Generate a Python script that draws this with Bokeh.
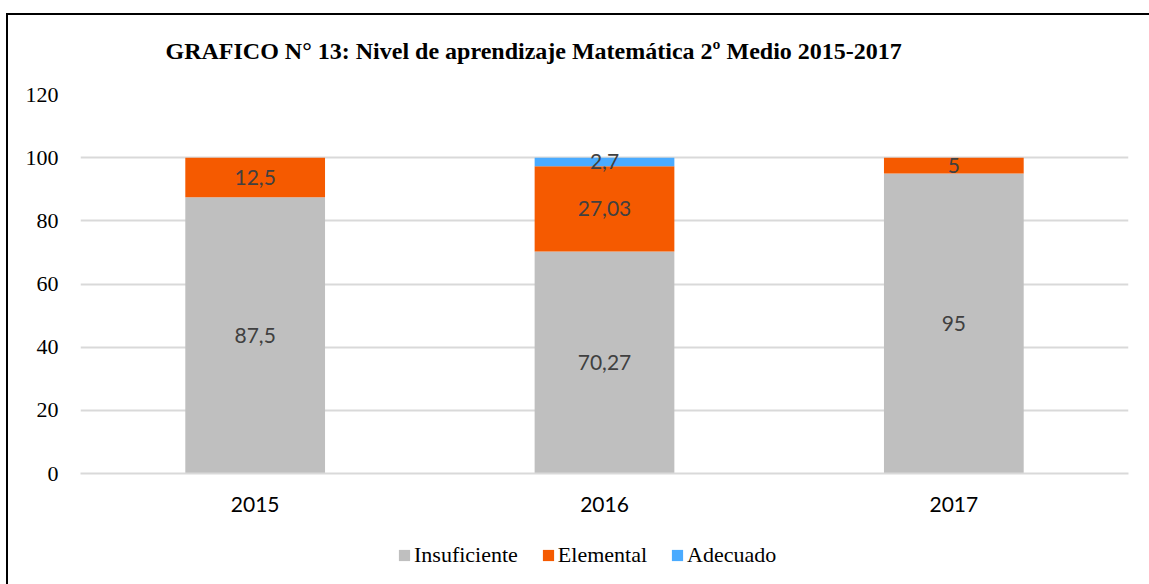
from bokeh.plotting import figure
from bokeh.layouts import column
from bokeh.models import ColumnDataSource, FixedTicker, Legend, Title, Range1d
from bokeh.core.properties import value
from bokeh.embed import file_html
from bokeh.resources import INLINE

years = ["2015", "2016", "2017"]
insuficiente = [87.5, 70.27, 95]
elemental = [12.5, 27.03, 5]
adecuado = [0, 2.7, 0]
series_names = ["Insuficiente", "Elemental", "Adecuado"]
colors = ["#bfbfbf", "#f55a00", "#4aabff"]
y_ticks = [0, 20, 40, 60, 80, 100, 120]
title_text = "GRAFICO N° 13: Nivel de aprendizaje Matemática 2º Medio 2015-2017"

source = ColumnDataSource(dict(year=years, Insuficiente=insuficiente,
                               Elemental=elemental, Adecuado=adecuado))

p = figure(x_range=years, y_range=(0, 120), width=1141, height=510,
           output_backend="svg", toolbar_location=None,
           min_border_left=72, min_border_right=21, min_border_top=79,
           min_border_bottom=52)
p.outline_line_color = None
p.x_range.range_padding = 0

renderers = p.vbar_stack(series_names, x="year", width=0.4, color=colors,
                         source=source, line_color=None)

# data labels
lx, ly, lt = [], [], []
for i, yr in enumerate(years):
    base = 0
    for series in (insuficiente, elemental, adecuado):
        v = series[i]
        if v > 0:
            lx.append(yr)
            ly.append(base + v / 2)
            lt.append(f"{v:g}".replace(".", ","))
        base += v
lsrc = ColumnDataSource(dict(x=lx, y=ly, t=lt))
p.text(x="x", y="y", text="t", source=lsrc, text_align="center",
       text_baseline="middle", text_font=value("Lato"),
       text_font_size="21px", text_color="#404040")

# axes
p.yaxis.ticker = FixedTicker(ticks=y_ticks)
p.yaxis.axis_line_color = None
p.yaxis.major_tick_line_color = None
p.yaxis.minor_tick_line_color = None
p.yaxis.major_label_text_font = "Liberation Serif"
p.yaxis.major_label_text_font_size = "22px"
p.yaxis.major_label_text_color = "#000000"
p.yaxis.major_label_standoff = 16

p.xaxis.axis_line_color = "#d9d9d9"
p.xaxis.axis_line_width = 2
p.xaxis.major_tick_line_color = None
p.xaxis.minor_tick_line_color = None
p.xaxis.major_label_text_font = "Lato"
p.xaxis.major_label_text_font_size = "21px"
p.xaxis.major_label_text_color = "#000000"
p.xaxis.major_label_standoff = 17

p.xgrid.grid_line_color = None
p.ygrid.ticker = FixedTicker(ticks=y_ticks)
p.ygrid.grid_line_color = "#d9d9d9"
p.ygrid.grid_line_width = 2

# title (spacer first, nearest the frame, then the visible title)
p.add_layout(Title(text=" ", text_font_size="10px", standoff=18), "above")
p.add_layout(Title(text=title_text, align="left", offset=85, standoff=0,
                   text_font="Liberation Serif", text_font_style="bold",
                   text_font_size="24px", text_color="#000000"), "above")

# legend strip
lf = figure(x_range=p.x_range, y_range=Range1d(200, 201), width=1141, height=59,
            output_backend="svg", toolbar_location=None,
            x_axis_location=None, y_axis_location=None, min_border=0)
lf.outline_line_color = None
lf.grid.visible = False
lrend = lf.vbar_stack(series_names, x="year", width=0.4, color=colors,
                      source=source, line_color=None)
legend = Legend(items=[(n, [r]) for n, r in zip(series_names, lrend)],
                orientation="horizontal", location=(317, 16),
                glyph_width=14, glyph_height=14, label_standoff=3, spacing=23,
                padding=0, margin=0, border_line_color=None,
                background_fill_alpha=0,
                label_text_font="Liberation Serif", label_text_font_size="22px",
                label_text_color="#000000")
lf.add_layout(legend, "center")

layout = column(p, lf, spacing=0,
                styles={"border-top": "2px solid black",
                        "border-left": "2px solid black",
                        "margin-top": "13px", "margin-left": "6px"})

open("out.html", "w").write(file_html(layout, INLINE))
